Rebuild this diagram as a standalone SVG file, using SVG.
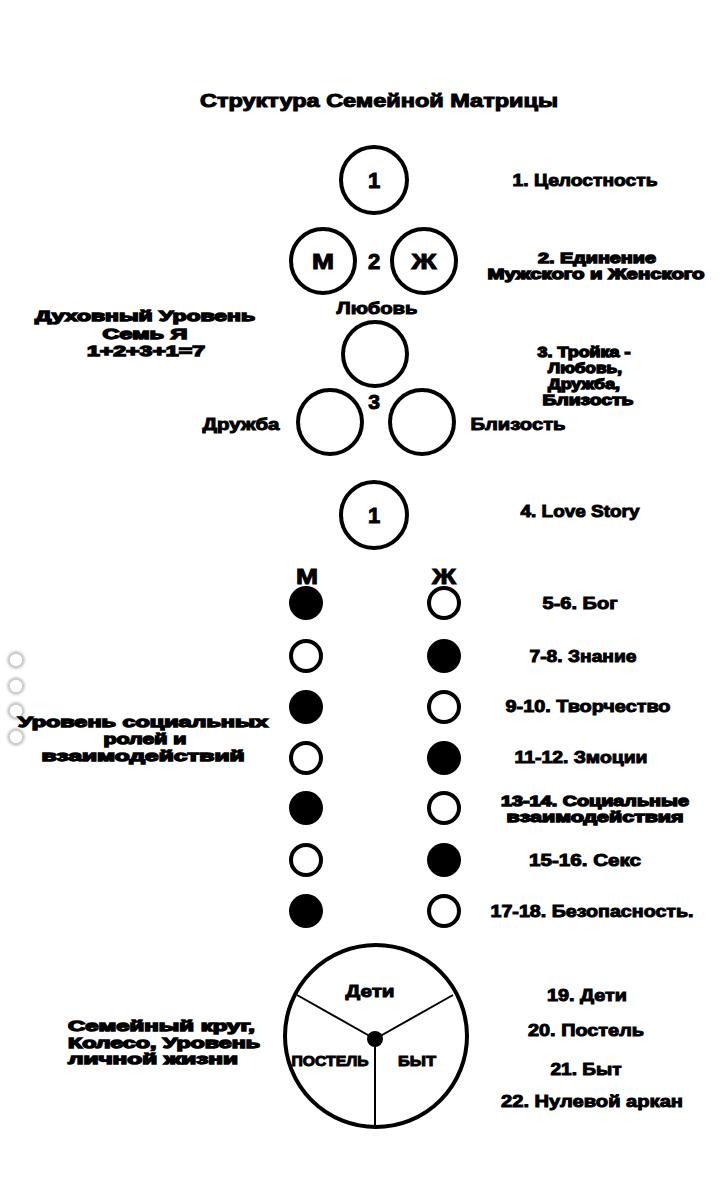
<svg xmlns="http://www.w3.org/2000/svg" width="720" height="1195" viewBox="0 0 720 1195">
<style>
.t{font-family:"Liberation Sans",Arial,sans-serif;font-weight:bold;font-size:17px;fill:#000;stroke:#000;stroke-width:1;text-anchor:middle}
.m{font-size:14px;stroke-width:1.3}
.l{text-anchor:start}
.ring{fill:#fff;stroke:#000;stroke-width:4}
.dot{fill:#000;stroke:none}
.hole{fill:#fff;stroke:#000;stroke-width:4}
.line{stroke:#000;stroke-width:2;fill:none}
.ui{fill:#fff;stroke:#c8c8c8;stroke-width:1.5}
</style>
<defs>
<filter id="sh" x="-50%" y="-50%" width="200%" height="200%">
<feGaussianBlur in="SourceAlpha" stdDeviation="1.5"/>
<feComponentTransfer><feFuncA type="linear" slope="0.5"/></feComponentTransfer>
<feMerge><feMergeNode/><feMergeNode in="SourceGraphic"/></feMerge>
</filter>
</defs>
<rect width="720" height="1195" fill="#fff"/>

<g id="ui-dots" filter="url(#sh)">
<circle class="ui" cx="16" cy="660" r="7"/>
<circle class="ui" cx="16" cy="686" r="7"/>
<circle class="ui" cx="16" cy="711" r="7"/>
<circle class="ui" cx="16" cy="737" r="7"/>
</g>

<g id="title"><text class="t" x="379" y="107" style="font-size:18px" textLength="358" lengthAdjust="spacingAndGlyphs">Структура Семейной Матрицы</text></g>

<g id="node-1">
<circle class="ring" cx="374" cy="180" r="33"/>
<text class="t" x="374" y="188" style="font-size:22px">1</text>
<text class="t" x="585" y="186" textLength="145" lengthAdjust="spacingAndGlyphs">1. Целостность</text>
</g>

<g id="node-2">
<circle class="ring" cx="323" cy="261" r="32"/>
<text class="t" x="323" y="269" style="font-size:22px" textLength="22" lengthAdjust="spacingAndGlyphs">М</text>
<text class="t" x="374" y="269" style="font-size:22px">2</text>
<circle class="ring" cx="424" cy="261" r="32"/>
<text class="t" x="424" y="269" style="font-size:22px" textLength="25" lengthAdjust="spacingAndGlyphs">Ж</text>
<text class="t m" x="597" y="263" textLength="118" lengthAdjust="spacingAndGlyphs">2. Единение</text>
<text class="t m" x="596" y="279" textLength="217" lengthAdjust="spacingAndGlyphs">Мужского и Женского</text>
</g>

<g id="level-spirit">
<text class="t m" x="145" y="321" textLength="220" lengthAdjust="spacingAndGlyphs">Духовный Уровень</text>
<text class="t m" x="145" y="339" textLength="85" lengthAdjust="spacingAndGlyphs">Семь Я</text>
<text class="t m" x="146" y="356" textLength="118" lengthAdjust="spacingAndGlyphs">1+2+3+1=7</text>
</g>

<g id="node-3">
<text class="t" x="377" y="314" textLength="81" lengthAdjust="spacingAndGlyphs">Любовь</text>
<circle class="ring" cx="375" cy="354" r="32"/>
<text class="t" x="374" y="409" style="font-size:21px">3</text>
<circle class="ring" cx="330" cy="422" r="32"/>
<circle class="ring" cx="422" cy="422" r="32"/>
<text class="t" x="241" y="430" textLength="77" lengthAdjust="spacingAndGlyphs">Дружба</text>
<text class="t" x="518" y="430" textLength="95" lengthAdjust="spacingAndGlyphs">Близость</text>
<text class="t m" x="584" y="357" textLength="93" lengthAdjust="spacingAndGlyphs">3. Тройка -</text>
<text class="t m" x="585" y="373" textLength="74" lengthAdjust="spacingAndGlyphs">Любовь,</text>
<text class="t m" x="584" y="389" textLength="72" lengthAdjust="spacingAndGlyphs">Дружба,</text>
<text class="t m" x="588" y="405" textLength="91" lengthAdjust="spacingAndGlyphs">Близость</text>
</g>

<g id="node-4">
<circle class="ring" cx="374" cy="515" r="33"/>
<text class="t" x="374" y="523" style="font-size:22px">1</text>
<text class="t" x="580" y="517" textLength="119" lengthAdjust="spacingAndGlyphs">4. Love Story</text>
</g>

<g id="mf-heads">
<text class="t" x="307" y="584" style="font-size:22px" textLength="22" lengthAdjust="spacingAndGlyphs">М</text>
<text class="t" x="444" y="584" style="font-size:22px" textLength="24" lengthAdjust="spacingAndGlyphs">Ж</text>
</g>

<g id="row-5-6">
<circle class="dot" cx="306" cy="603" r="17"/>
<circle class="hole" cx="444" cy="603" r="15"/>
<text class="t" x="580" y="609" textLength="75" lengthAdjust="spacingAndGlyphs">5-6. Бог</text>
</g>
<g id="row-7-8">
<circle class="hole" cx="306" cy="656" r="15"/>
<circle class="dot" cx="444" cy="656" r="17"/>
<text class="t" x="583" y="662" textLength="107" lengthAdjust="spacingAndGlyphs">7-8. Знание</text>
</g>
<g id="row-9-10">
<circle class="dot" cx="306" cy="707" r="17"/>
<circle class="hole" cx="444" cy="707" r="15"/>
<text class="t" x="588" y="712" textLength="165" lengthAdjust="spacingAndGlyphs">9-10. Творчество</text>
</g>
<g id="row-11-12">
<circle class="hole" cx="306" cy="758" r="15"/>
<circle class="dot" cx="444" cy="758" r="17"/>
<text class="t" x="581" y="763" textLength="133" lengthAdjust="spacingAndGlyphs">11-12. Змоции</text>
</g>
<g id="row-13-14">
<circle class="dot" cx="306" cy="808" r="17"/>
<circle class="hole" cx="444" cy="808" r="15"/>
<text class="t m" x="595" y="806" textLength="188" lengthAdjust="spacingAndGlyphs">13-14. Социальные</text>
<text class="t m" x="595" y="822" textLength="177" lengthAdjust="spacingAndGlyphs">взаимодействия</text>
</g>
<g id="row-15-16">
<circle class="hole" cx="306" cy="860" r="15"/>
<circle class="dot" cx="444" cy="860" r="17"/>
<text class="t" x="585" y="866" textLength="112" lengthAdjust="spacingAndGlyphs">15-16. Секс</text>
</g>
<g id="row-17-18">
<circle class="dot" cx="306" cy="911" r="17"/>
<circle class="hole" cx="444" cy="911" r="15"/>
<text class="t" x="592" y="917" textLength="203" lengthAdjust="spacingAndGlyphs">17-18. Безопасность.</text>
</g>

<g id="level-social">
<text class="t m" x="143" y="727" textLength="250" lengthAdjust="spacingAndGlyphs">Уровень социальных</text>
<text class="t m" x="145" y="744" textLength="83" lengthAdjust="spacingAndGlyphs">ролей и</text>
<text class="t m" x="143" y="761" textLength="203" lengthAdjust="spacingAndGlyphs">взаимодействий</text>
</g>

<g id="wheel">
<circle cx="376" cy="1036" r="91" fill="#fff" stroke="#000" stroke-width="4"/>
<g class="line">
<line x1="375" y1="1039" x2="297" y2="995"/>
<line x1="375" y1="1039" x2="453" y2="995"/>
<line x1="375" y1="1039" x2="375" y2="1127"/>
</g>
<circle cx="375" cy="1039" r="8" fill="#000"/>
<text class="t" x="370" y="997" textLength="49" lengthAdjust="spacingAndGlyphs">Дети</text>
<text class="t" x="330" y="1066" style="font-size:15px" textLength="77" lengthAdjust="spacingAndGlyphs">ПОСТЕЛЬ</text>
<text class="t" x="417" y="1066" style="font-size:15px" textLength="38" lengthAdjust="spacingAndGlyphs">БЫТ</text>
</g>

<g id="wheel-labels">
<text class="t" x="587" y="1001" textLength="80" lengthAdjust="spacingAndGlyphs">19. Дети</text>
<text class="t" x="586" y="1036" textLength="116" lengthAdjust="spacingAndGlyphs">20. Постель</text>
<text class="t" x="586" y="1075" textLength="71" lengthAdjust="spacingAndGlyphs">21. Быт</text>
<text class="t" x="592" y="1107" textLength="182" lengthAdjust="spacingAndGlyphs">22. Нулевой аркан</text>
</g>

<g id="level-personal">
<text class="t m l" x="68" y="1031" textLength="187" lengthAdjust="spacingAndGlyphs">Семейный круг,</text>
<text class="t m l" x="68" y="1048" textLength="192" lengthAdjust="spacingAndGlyphs">Колесо, Уровень</text>
<text class="t m l" x="68" y="1064" textLength="170" lengthAdjust="spacingAndGlyphs">личной жизни</text>
</g>
</svg>
